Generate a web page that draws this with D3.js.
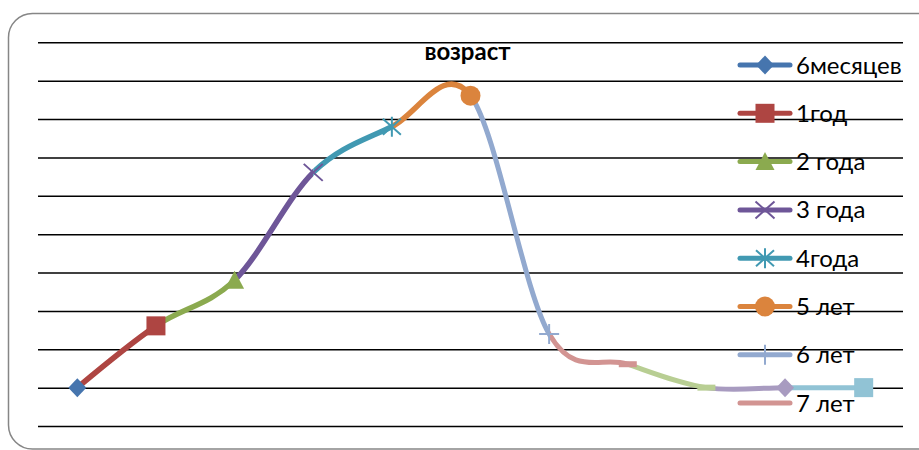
<!DOCTYPE html>
<html>
<head>
<meta charset="utf-8">
<script src="https://cdn.jsdelivr.net/npm/d3@7"></script>
<style>
  html, body { margin: 0; padding: 0; background: #fff; overflow: hidden; }
  svg { display: block; }
</style>
</head>
<body>
<svg id="chart" width="919" height="450"></svg>
<script>
// Chart title and legend captions
const chartTitle = "возраст";
const legendLabels = ["6месяцев", "1год", "2 года", "3 года", "4года", "5 лет", "6 лет", "7 лет"];

// One value per age step; each coloured segment ends at its own point
const pointValues = [1.0, 2.61, 3.8, 6.61, 7.8, 8.61, 2.4, 1.61, 1.0, 1.0, 1.0];

// Value axis gridlines
const gridTicks = [0, 1, 2, 3, 4, 5, 6, 7, 8, 9, 10];

// Series colours and marker shapes, in series order
const seriesColors = ["#4675AE", "#AE4542", "#8BAA4F", "#6E5698", "#4199B2", "#DB843D",
                      "#92A9CF", "#D29492", "#B8CE93", "#A89BC0", "#91C3D5"];
const seriesMarkers = ["diamond", "square", "triangle", "x", "star", "circle",
                       "plus", "dash", "dash", "diamond", "square"];

const svg = d3.select("#chart");

// Outer chart frame
svg.append("rect")
  .attr("x", 8.5).attr("y", 13.5)
  .attr("width", 940).attr("height", 435.5)
  .attr("rx", 24).attr("ry", 24)
  .attr("fill", "#fff")
  .attr("stroke", "#868686")
  .attr("stroke-width", 1.5);

const plotLeft = 38, plotRight = 903, plotTop = 42.3, plotBottom = 426;

const x = d3.scalePoint()
  .domain(d3.range(pointValues.length))
  .range([plotLeft, plotRight])
  .padding(0.5);

const y = d3.scaleLinear()
  .domain([0, 10])
  .range([plotBottom, plotTop]);

// Horizontal gridlines through the axis generator
const gridAxis = d3.axisLeft(y)
  .tickValues(gridTicks)
  .tickSize(-(plotRight - plotLeft))
  .tickFormat("");
const gridG = svg.append("g")
  .attr("transform", `translate(${plotLeft},0)`)
  .call(gridAxis);
gridG.select(".domain").remove();
gridG.selectAll(".tick line")
  .attr("stroke", "#000")
  .attr("stroke-width", 1.5);

// Smoothed line through every point, cut into one piece per series
const lineGen = d3.line()
  .x((d, i) => x(i))
  .y(d => y(d))
  .curve(d3.curveCardinal.tension(0));
const fullPath = lineGen(pointValues);

const defs = svg.append("defs");
const linesG = svg.append("g");
for (let i = 1; i < pointValues.length; i++) {
  const clipId = "seg-clip-" + i;
  defs.append("clipPath").attr("id", clipId)
    .append("rect")
    .attr("x", x(i - 1)).attr("y", 0)
    .attr("width", x(i) - x(i - 1)).attr("height", 450);
  linesG.append("path")
    .attr("d", fullPath)
    .attr("clip-path", `url(#${clipId})`)
    .attr("fill", "none")
    .attr("stroke", seriesColors[i])
    .attr("stroke-width", i >= 6 ? 5 : 5.5)
    .attr("stroke-linejoin", "round");
}

// Marker drawing
function drawMarker(g, type, color, cx, cy, scale) {
  const s = scale || 1;
  const m = g.append("g").attr("transform", `translate(${cx},${cy}) scale(${s})`);
  switch (type) {
    case "diamond":
      m.append("path").attr("d", "M0,-9.5L9,0L0,9.5L-9,0Z").attr("fill", color);
      break;
    case "square":
      m.append("rect").attr("x", -9.5).attr("y", -9.5).attr("width", 19).attr("height", 19)
        .attr("fill", color);
      break;
    case "triangle":
      m.append("path").attr("d", "M0,-9.5L9.5,8.5L-9.5,8.5Z").attr("fill", color);
      break;
    case "x":
      m.append("path").attr("d", "M-9.5,-8.5L9.5,8.5M-9.5,8.5L9.5,-8.5")
        .attr("stroke", color).attr("stroke-width", 2).attr("fill", "none");
      break;
    case "star":
      m.append("path").attr("d", "M-9,-8L9,8M-9,8L9,-8M0,-10L0,10")
        .attr("stroke", color).attr("stroke-width", 2).attr("fill", "none");
      break;
    case "circle":
      m.append("circle").attr("r", 10).attr("fill", color);
      break;
    case "plus":
      m.append("path").attr("d", "M-10,0L10,0M0,-10L0,10")
        .attr("stroke", color).attr("stroke-width", 2).attr("fill", "none");
      break;
    case "dash":
      m.append("rect").attr("x", -9).attr("y", -3).attr("width", 18).attr("height", 6)
        .attr("fill", color);
      break;
  }
}

const markersG = svg.append("g");
pointValues.forEach((v, i) => {
  drawMarker(markersG, seriesMarkers[i], seriesColors[i], x(i), y(v));
});

// Legend
const legendG = svg.append("g");
const legendTop = 65, legendStep = 48.3;
legendLabels.forEach((label, i) => {
  const ly = legendTop + i * legendStep;
  legendG.append("line")
    .attr("x1", 740).attr("x2", 790)
    .attr("y1", ly).attr("y2", ly)
    .attr("stroke", seriesColors[i])
    .attr("stroke-width", 5)
    .attr("stroke-linecap", "round");
  if (seriesMarkers[i] !== "dash") {
    drawMarker(legendG, seriesMarkers[i], seriesColors[i], 765, ly);
  }
  legendG.append("text")
    .attr("x", 796).attr("y", ly + 8.5)
    .attr("font-family", "Lato, 'Liberation Sans', sans-serif")
    .attr("font-size", 24)
    .attr("fill", "#000")
    .text(label);
});

// Title
svg.append("text")
  .attr("x", 467.5).attr("y", 59.5)
  .attr("text-anchor", "middle")
  .attr("font-family", "Lato, 'Liberation Sans', sans-serif")
  .attr("font-weight", "bold")
  .attr("font-size", 24)
  .attr("fill", "#000")
  .text(chartTitle);
</script>
</body>
</html>
